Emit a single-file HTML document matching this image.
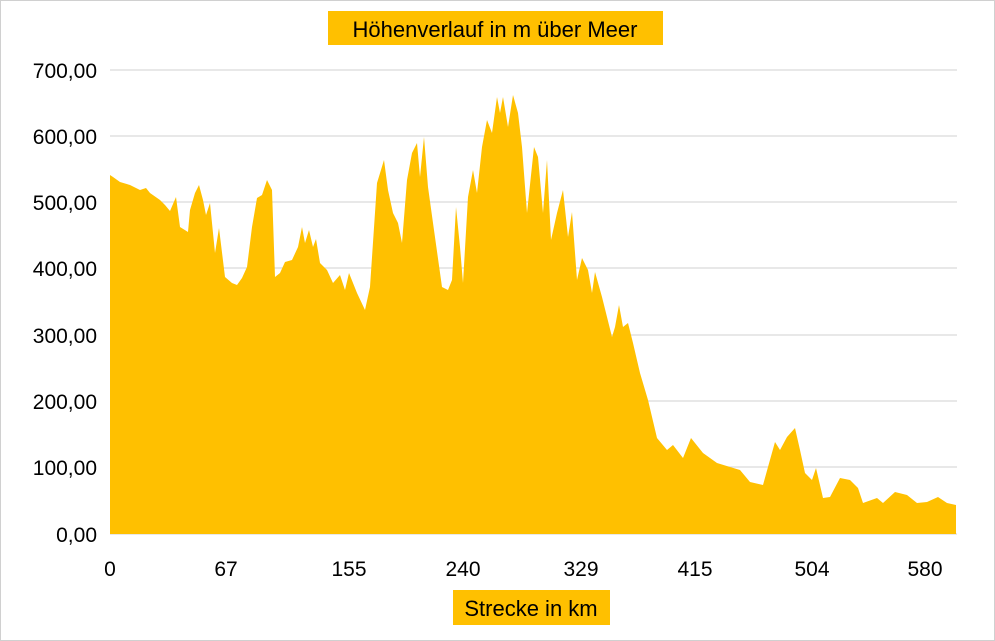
<!DOCTYPE html>
<html><head><meta charset="utf-8"><style>
body{margin:0;background:#fff;}
svg{display:block;font-family:"Liberation Sans",sans-serif;}
</style></head><body>
<svg width="995" height="641" viewBox="0 0 995 641">
<rect x="0.5" y="0.5" width="994" height="640" fill="#fff" stroke="#d0d0d0"/>
<g stroke="#d9d9d9" stroke-width="1.3">
<line x1="110" x2="957" y1="70" y2="70"/><line x1="110" x2="957" y1="136" y2="136"/>
<line x1="110" x2="957" y1="202" y2="202"/><line x1="110" x2="957" y1="268" y2="268"/>
<line x1="110" x2="957" y1="335" y2="335"/><line x1="110" x2="957" y1="401" y2="401"/>
<line x1="110" x2="957" y1="467" y2="467"/><line x1="110" x2="957" y1="534" y2="534"/>
</g>
<polygon fill="#ffc000" points="110,534 110,175 113,177 120,182 130,185 140,190 146,188 150,193 160,200 165,205 170,211 176,197 180,227 188,232 190,210 195,193 199,185 203,200 206,215 210,203 215,253 219,228 225,277 232,283 237,285 242,278 247,267 252,227 257,198 262,195 267,180 272,190 275,277 280,273 285,262 292,260 298,247 302,227 305,243 309,230 313,247 316,239 320,263 327,270 333,283 340,275 345,290 349,273 357,293 365,310 370,287 377,183 384,160 388,190 393,213 398,223 402,243 407,180 412,153 417,143 420,177 424,137 428,187 433,223 442,287 448,290 452,280 456,207 460,247 463,283 468,197 473,170 477,193 482,147 487,120 492,133 497,97 500,113 503,97 508,127 513,95 518,113 522,147 527,213 534,147 538,157 543,213 547,160 551,240 557,213 563,190 568,237 572,212 577,280 582,258 588,270 592,293 595,272 602,297 612,337 615,327 619,305 623,327 628,323 633,343 640,373 648,400 657,438 667,450 673,445 683,458 691,438 703,453 717,463 730,467 740,470 750,482 763,485 768,467 775,442 780,450 787,437 795,428 800,450 805,473 812,480 816,468 823,498 830,497 840,478 850,480 858,488 863,503 877,498 883,503 895,492 907,495 917,503 927,502 938,497 947,503 956,505 956,534"/>
<g font-size="21" fill="#000" text-anchor="end">
<text x="97" y="78">700,00</text><text x="97" y="144">600,00</text>
<text x="97" y="210">500,00</text><text x="97" y="276">400,00</text>
<text x="97" y="343">300,00</text><text x="97" y="409">200,00</text>
<text x="97" y="475">100,00</text><text x="97" y="542">0,00</text>
</g>
<g font-size="21" fill="#000" text-anchor="middle">
<text x="110" y="576">0</text><text x="226" y="576">67</text><text x="349" y="576">155</text>
<text x="463" y="576">240</text><text x="581" y="576">329</text><text x="695" y="576">415</text>
<text x="812" y="576">504</text><text x="925" y="576">580</text>
</g>
<rect x="328" y="11" width="335" height="34" fill="#ffc000"/>
<text x="495" y="37" font-size="22" text-anchor="middle">Höhenverlauf in m über Meer</text>
<rect x="453" y="590" width="157" height="35" fill="#ffc000"/>
<text x="531" y="616" font-size="22" text-anchor="middle">Strecke in km</text>
</svg>
</body></html>
